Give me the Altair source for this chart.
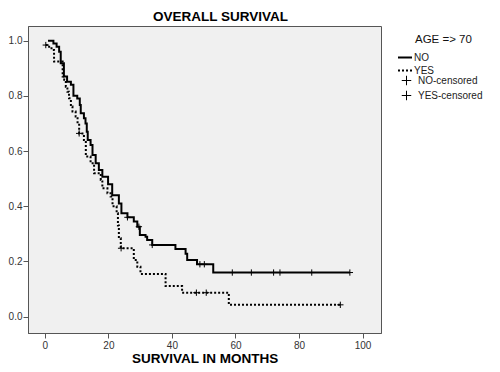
import altair as alt
import pandas as pd

# ---- data ----
no_time = [1.0, 2.7, 3.7, 4.5, 5.0, 6.0, 7.0, 8.2, 9.0, 10.2, 11.0, 11.3, 12.3, 12.8,
           13.2, 13.5, 14.4, 15.0, 16.0, 17.0, 18.1, 19.9, 21.2, 23.3, 24.1, 26.0,
           28.0, 29.1, 29.9, 31.7, 32.2, 33.8, 41.1, 44.3, 44.8, 47.9, 53.0, 96.0]
no_surv = [1.0, 0.99, 0.978, 0.96, 0.918, 0.87, 0.851, 0.84, 0.80, 0.79, 0.767, 0.737,
           0.719, 0.70, 0.67, 0.64, 0.622, 0.586, 0.556, 0.531, 0.507, 0.48, 0.44, 0.41,
           0.375, 0.36, 0.345, 0.326, 0.296, 0.29, 0.278, 0.26, 0.245, 0.228, 0.205,
           0.19, 0.16, 0.16]

yes_time = [0.3, 1.35, 2.1, 2.9, 5.6, 6.1, 6.6, 7.1, 7.6, 8.2, 8.7, 9.7, 10.3, 10.8,
            12.3, 12.9, 14.4, 15.5, 17.6, 18.1, 19.7, 20.7, 21.3, 22.6, 23.0, 23.3,
            23.9, 28.0, 29.1, 30.1, 38.0, 43.2, 57.9, 93.0]
yes_surv = [0.984, 0.978, 0.966, 0.924, 0.87, 0.858, 0.833, 0.815, 0.791, 0.761, 0.743,
            0.725, 0.70, 0.664, 0.64, 0.58, 0.556, 0.52, 0.495, 0.465, 0.447, 0.435,
            0.40, 0.375, 0.33, 0.284, 0.248, 0.205, 0.181, 0.155, 0.111, 0.087, 0.043,
            0.043]

no_cens_time = [26.0, 29.6, 33.8, 48.8, 50.2, 59.0, 65.0, 72.0, 74.0, 84.0, 96.0]
yes_cens_time = [0.3, 10.8, 24.0, 47.7, 50.8, 93.0]

groups = ["NO", "YES"]
cens_labels = ["NO-censored", "YES-censored"]
x_ticks = [0, 20, 40, 60, 80, 100]
y_ticks = [0.0, 0.2, 0.4, 0.6, 0.8, 1.0]


def step_value(times, survs, t):
    v = survs[0]
    for ti, si in zip(times, survs):
        if ti <= t:
            v = si
    return v


line_rows = []
for g, ts, ss in [("NO", no_time, no_surv), ("YES", yes_time, yes_surv)]:
    for t, s in zip(ts, ss):
        line_rows.append({"month": t, "surv": s, "group": g})
lines = pd.DataFrame(line_rows)

cens_rows = []
for lab, cts, ts, ss in [("NO-censored", no_cens_time, no_time, no_surv),
                         ("YES-censored", yes_cens_time, yes_time, yes_surv)]:
    for t in cts:
        cens_rows.append({"month": t, "surv": step_value(ts, ss, t), "label": lab})
cens = pd.DataFrame(cens_rows)

FONT = "Liberation Sans"
PLUS = "M-1,0L1,0M0,-1L0,1"

x_scale = alt.Scale(domain=[-5.3, 105.8], nice=False, zero=False)
y_scale = alt.Scale(domain=[-0.059, 1.053], nice=False, zero=False)
x_enc = alt.X("month:Q", scale=x_scale,
              axis=alt.Axis(title="SURVIVAL IN MONTHS", values=x_ticks, format="d",
                            titlePadding=1, labelPadding=2))
y_enc = alt.Y("surv:Q", scale=y_scale,
              axis=alt.Axis(title=None, values=y_ticks, format=".1f", labelPadding=1))

line_layer = alt.Chart(lines).mark_line(
    interpolate="step-after", color="black", strokeWidth=2
).encode(
    x=x_enc, y=y_enc,
    strokeDash=alt.StrokeDash(
        "group:N",
        scale=alt.Scale(domain=groups, range=[[1, 0], [2, 2]]),
        legend=alt.Legend(
            title="AGE => 70",
            orient="none", legendX=387, legendY=8,
            symbolType="stroke", symbolSize=196, symbolStrokeWidth=2,
            symbolStrokeColor="black", titlePadding=4, rowPadding=0,
            symbolOffset=alt.ExprRef("-18"), labelOffset=1,
        ),
    ),
)

cens_layer = alt.Chart(cens).mark_point(
    shape=PLUS, filled=False, color="black", size=40, strokeWidth=1, opacity=1
).encode(
    x=alt.X("month:Q", scale=x_scale),
    y=alt.Y("surv:Q", scale=y_scale),
    shape=alt.Shape(
        "label:N",
        scale=alt.Scale(domain=cens_labels, range=[PLUS, PLUS]),
        legend=alt.Legend(
            title=None, orient="none", legendX=373, legendY=49,
            symbolSize=90, symbolStrokeColor="black", symbolFillColor="transparent",
            symbolStrokeWidth=1, rowPadding=0, labelOffset=6,
        ),
    ),
)

chart = alt.layer(line_layer, cens_layer).properties(
    width=353, height=307,
    autosize=alt.AutoSizeParams(type="none"),
    padding={"left": 20, "top": 18, "right": 111, "bottom": 31},
    title=alt.TitleParams("OVERALL SURVIVAL", font=FONT, fontSize=13.5, fontWeight="bold",
                          color="black", anchor="middle", dx=16, offset=3),
).configure_view(
    fill="#f0f0f0", stroke="#555555", strokeWidth=1
).configure_axis(
    domainColor="#555555", tickColor="#555555", labelColor="#333333",
    labelFont=FONT, labelFontSize=10, titleFont=FONT, titleFontSize=13.5,
    titleFontWeight="bold", titleColor="black", grid=False, tickSize=5,
).configure_legend(
    labelFont=FONT, labelFontSize=10, labelColor="#222222",
    titleFont=FONT, titleFontSize=11.5, titleFontWeight="normal", titleColor="#111111",
)

chart.save("out.html", embed_options={"renderer": "svg", "actions": False})
